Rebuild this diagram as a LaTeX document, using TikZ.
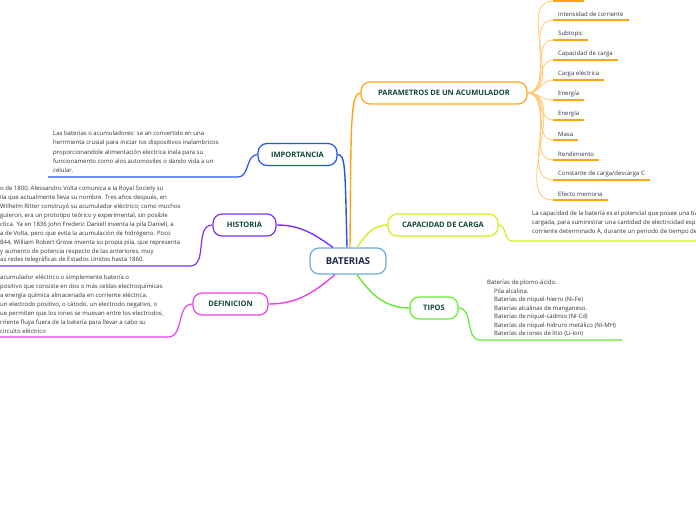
\documentclass[tikz,border=0pt]{standalone}
\usepackage{fontspec}
\setmainfont{Open Sans}
\usepackage{tikz}
\usetikzlibrary{positioning}
\definecolor{rootblue}{RGB}{106,170,224}
\definecolor{rootnavy}{RGB}{28,42,72}
\definecolor{labelgreen}{RGB}{18,70,56}
\definecolor{leaftext}{RGB}{51,51,51}
\definecolor{impoblue}{RGB}{34,85,238}
\definecolor{histviolet}{RGB}{122,50,255}
\definecolor{defimagenta}{RGB}{235,64,235}
\definecolor{capayellow}{RGB}{210,240,30}
\definecolor{tipogreen}{RGB}{100,235,50}
\definecolor{paraorange}{RGB}{255,165,20}
\definecolor{twigorange}{RGB}{255,200,110}

\begin{document}
\begin{tikzpicture}[x=1pt, y=-1pt,
  topic/.style={rectangle, rounded corners=9pt, draw=#1, line width=1.2pt, fill=white, minimum height=22pt, inner xsep=8pt, font=\fontsize{7.5}{9}\selectfont\bfseries, text=labelgreen},
  leaf/.style={anchor=north west, inner sep=0pt, align=left, text=leaftext},
  sub/.style={anchor=south west, inner xsep=5pt, inner ysep=3pt, font=\fontsize{6}{7}\selectfont, text=leaftext},
  link/.style={line width=1.4pt},
  leafline/.style={line width=1.2pt},
  twig/.style={line width=0.8pt, twigorange},
  subline/.style={line width=1.2pt, paraorange}
]
\fill[white] (0,0) rectangle (696,520);
\clip (0,0) rectangle (696,520);

% main topics
\node[topic=rootblue, minimum width=76pt, minimum height=26pt, font=\fontsize{9.5}{11}\selectfont\bfseries, text=rootnavy] (root) at (348,261) {BATERIAS};
\node[topic=impoblue, minimum width=79pt] (impo) at (297.5,154.5) {IMPORTANCIA};
\node[topic=histviolet, minimum width=63pt] (hist) at (244.5,225) {HISTORIA};
\node[topic=defimagenta, minimum width=75pt] (defi) at (230.5,304) {DEFINICION};
\node[topic=capayellow, minimum width=110pt] (capa) at (443,225) {CAPACIDAD DE CARGA};
\node[topic=tipogreen, minimum width=48pt] (tipo) at (434,308) {TIPOS};
\node[topic=paraorange, minimum width=166pt] (para) at (444,93) {PARAMETROS DE UN ACUMULADOR};

\draw[link, impoblue] ([xshift=-1pt]root.north) .. controls +(-2,-80) and +(8,0) .. (impo.east);
\draw[link, paraorange] ([xshift=2pt]root.north) .. controls +(1,-125) and +(-10,0) .. (para.west);
\draw[link, histviolet] ([xshift=-15pt]root.north) to[out=145, in=0] (hist.east);
\draw[link, defimagenta] ([xshift=-13pt]root.south) to[out=-140, in=0] (defi.east);
\draw[link, capayellow] ([xshift=9pt]root.north) to[out=55, in=180] (capa.west);
\draw[link, tipogreen] ([xshift=9pt]root.south) to[out=-55, in=180] (tipo.west);

% leaf texts
\node[leaf, font=\fontsize{6}{9.2}\selectfont] (impotxt) at (53,131) {Las baterias o acumuladores: se an convertido en una\\herrmienta crusial para iniciar los dispositivos inalambricos\\proporcionandole  alimentación electrica inala para su\\funcionamento como alos automoviles o dando vida a un\\celular.};
\coordinate (impoline) at (238,177);
\draw[leafline, impoblue] (impo.west) to[out=180, in=0] (impoline) -- (48,177);

\node[leaf, font=\fontsize{6}{8.9}\selectfont] (histtxt) at (0,186) {o de 1800, Alessandro Volta comunica a la Royal Society su\\ila que actualmente lleva su nombre. Tres años después, en\\Wilhelm Ritter construyó su acumulador eléctrico; como muchos\\guieron, era un prototipo teórico y experimental, sin posible\\ctica. Ya en 1836 John Frederic Daniell inventa la pila Daniell, a\\a de Volta, pero que evita la acumulación de hidrógeno. Poco\\844, William Robert Grove inventa su propia pila, que representa\\y aumento de potencia respecto de las anteriores, muy\\as redes telegráficas de Estados Unidos hasta 1860.};
\coordinate (histline) at (190,266);
\draw[leafline, histviolet] (hist.west) to[out=180, in=0] (histline) -- (0,266);

\node[leaf, font=\fontsize{6}{9}\selectfont] (defitxt) at (0,275) {acumulador eléctrico o simplemente batería o\\positivo que consiste en dos o más celdas electroquímicas\\a energía química almacenada en corriente eléctrica.\\un electrodo positivo, o cátodo, un electrodo negativo, o\\ue permiten que los iones se muevan entre los electrodos,\\rriente fluya fuera de la batería para llevar a cabo su\\circuito eléctrico};
\coordinate (defiline) at (168,337);
\draw[leafline, defimagenta] (defi.west) to[out=180, in=0] (defiline) -- (0,337);

\node[leaf, font=\fontsize{6}{9}\selectfont] (capatxt) at (532,211) {La capacidad de la batería es el potencial que posee una ba\\cargada, para suministrar una cantidad de electricidad esp\\corriente determinado A, durante un periodo de tiempo det};
\coordinate (capaline) at (512,241);
\draw[leafline, capayellow] (capa.east) to[out=0, in=180] (capaline) -- (696,241);

\node[leaf, font=\fontsize{6}{8.5}\selectfont] (tipotxt) at (487,280) {Baterías de plomo-ácido.\\\hspace*{7pt}Pila alcalina.\\\hspace*{7pt}Baterías de níquel-hierro (Ni-Fe)\\\hspace*{7pt}Baterías alcalinas de manganeso.\\\hspace*{7pt}Baterías de níquel-cadmio (Ni-Cd)\\\hspace*{7pt}Baterías de níquel-hidruro metálico (Ni-MH)\\\hspace*{7pt}Baterías de iones de litio (Li-ion)};
\coordinate (tipoline) at (480,340);
\draw[leafline, tipogreen] (tipo.east) to[out=0, in=180] (tipoline) -- (622,340);

% subtopics of PARAMETROS
\coordinate (s0) at (553,1);
\draw[twig] (para.east) to[out=0, in=180] (s0);
\draw[subline] (s0) -- (584,1);
\foreach \txt [count=\i] in {Intensidad de corriente, Subtopic, Capacidad de carga, Carga eléctrica, Energía, Energía, Masa, Rendimiento, Constante de carga/descarga C, Efecto memoria}{
  \node[sub] (s\i) at (553,20*\i) {\txt};
  \draw[twig] (para.east) to[out=0, in=180] (s\i.south west);
  \draw[subline] (s\i.south west) -- (s\i.south east);
}
\end{tikzpicture}
\end{document}
